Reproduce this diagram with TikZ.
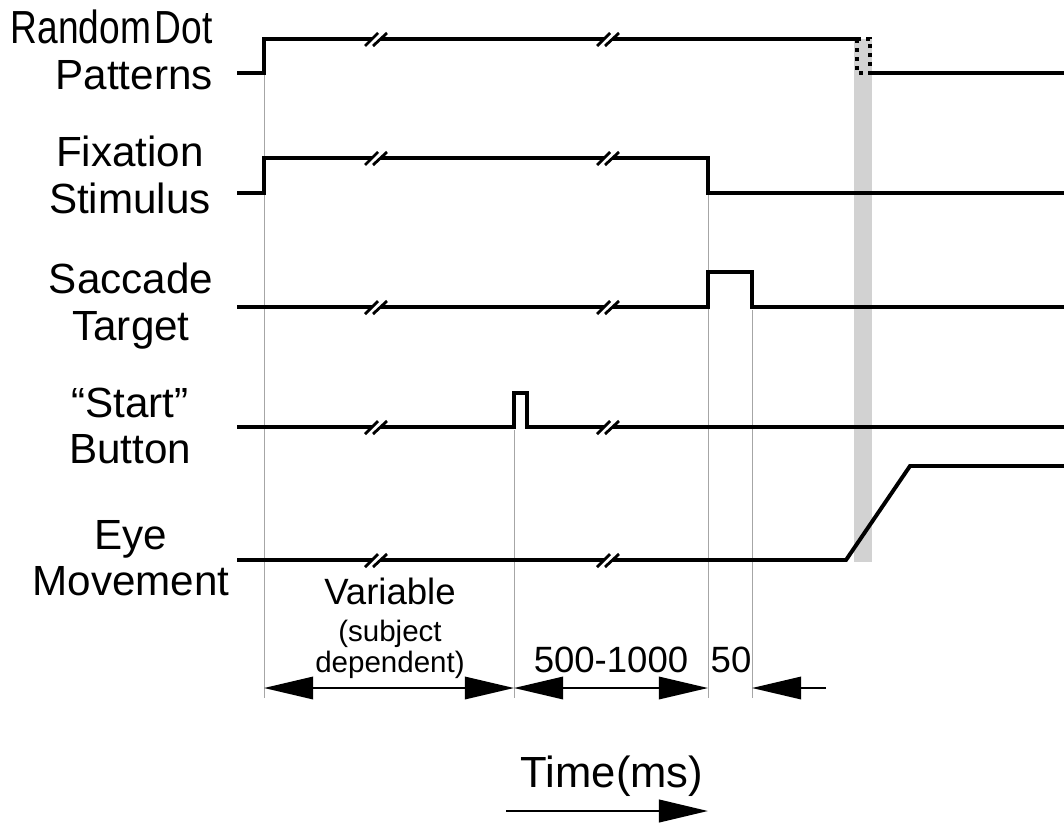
\documentclass[tikz,border=0pt]{standalone}
\usepackage{fontspec}
\setmainfont{Liberation Sans}
\usetikzlibrary{arrows.meta}

\begin{document}
\begin{tikzpicture}[x=0.025cm,y=-0.025cm,
  sig/.style={line width=2.8pt,line join=miter},
  guide/.style={gray!70,line width=0.6pt},
  lbl/.style={font=\fontsize{26}{32}\selectfont,align=center,inner sep=0pt},
  row/.style={font=\fontsize{30}{33}\selectfont,align=center,inner sep=0pt},
  small/.style={font=\fontsize{21}{22}\selectfont,align=center,inner sep=0pt},
  dimarrow/.style={line width=1.4pt,{Triangle[length=35pt,width=16pt]}-{Triangle[length=35pt,width=16pt]}},
  cut/.pic={
    \fill[white] (-7,4) -- (1,4) -- (7,-4) -- (-1,-4) -- cycle;
    \draw[line width=2pt] (-11,7) -- (2,-6) (-3,7) -- (11,-6);
  }
]
  \useasboundingbox (0,0) rectangle (1064,823);

  % shaded interval
  \fill[gray!35] (854,39) rectangle (872,562);

  % thin timing guides
  \draw[guide] (264,75) -- (264,698);
  \draw[guide] (514,430) -- (514,698);
  \draw[guide] (708,195) -- (708,698);
  \draw[guide] (752,310) -- (752,698);

  % signal traces
  \draw[sig] (237,73) -- (264,73) -- (264,39) -- (857,39);
  \draw[line width=2.8pt,dash pattern=on 2.8pt off 3.6pt] (857,39) rectangle (870,73);
  \draw[sig] (870,73) -- (1064,73);
  \draw[sig] (237,193) -- (264,193) -- (264,158) -- (708,158) -- (708,193) -- (1064,193);
  \draw[sig] (237,307) -- (708,307) -- (708,272) -- (752,272) -- (752,307) -- (1064,307);
  \draw[sig] (237,427) -- (514,427) -- (514,393) -- (527,393) -- (527,427) -- (1064,427);
  \draw[sig] (237,560) -- (846,560) -- (910,466) -- (1064,466);

  % breaks
  \foreach \yy in {39,158,307,427,560} {
    \pic at (376,\yy) {cut};
    \pic at (608,\yy) {cut};
  }

  % row labels
  \node[row,align=right,anchor=east] (rdp) at (213,50)
    {\scalebox{0.88}[1.1]{\fontsize{30}{33}\selectfont Random\hspace{0.1em}Dot}\\Patterns};
  \node[row] (fix) at (130,175) {Fixation\\Stimulus};
  \node[row] (sac) at (131,306) {Saccade\\Target};
  \node[row] (btn) at (130,426) {“Start”\\Button};
  \node[row] (eye) at (131,558) {Eye\\Movement};

  % intervals
  \coordinate (p0) at (264,688);
  \coordinate (p1) at (514,688);
  \coordinate (p2) at (708,688);
  \coordinate (p3) at (752,688);
  \coordinate (p4) at (826,688);
  \draw[dimarrow] (p0) -- (p1);
  \draw[dimarrow] (p1) -- (p2);
  \draw[line width=1.4pt,-{Triangle[length=35pt,width=16pt]}] (p4) -- (p3);

  \node[lbl] (var) at (390,591) {Variable};
  \node[small] (subj) at (390,649) {(subject\\dependent)};
  \node[lbl] (mid) at (611,660) {500-1000};
  \node[lbl] (fifty) at (731,660) {50};

  % time axis
  \node[lbl,font=\fontsize{31}{36}\selectfont] (time) at (612,776) {Time(ms)};
  \coordinate (t0) at (506,811);
  \coordinate (t1) at (708,811);
  \draw[line width=2pt,-{Triangle[length=35pt,width=16pt]}] (t0) -- (t1);
\end{tikzpicture}
\end{document}
